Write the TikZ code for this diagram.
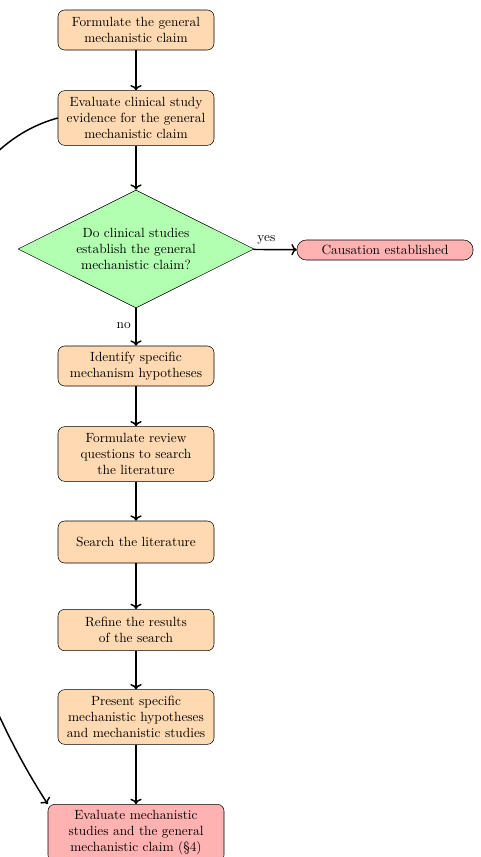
\documentclass[tikz,border=0pt]{standalone}
\usepackage{amsmath,amssymb}
\usepackage{xcolor}
\usepackage{tikz}
\usetikzlibrary{shapes.geometric, positioning, calc, arrows.meta}

\begin{document}
\begin{tikzpicture}[x=0.75pt, y=-0.75pt,
        box/.style={draw, rounded corners=5pt, fill=orange!30, align=center,
                    minimum width=117pt, minimum height=30pt, inner sep=2pt},
        decision/.style={draw, diamond, aspect=2, fill=green!30, align=center, inner sep=-3pt,
                    minimum width=177pt, minimum height=88.5pt},
        goal/.style={draw, rounded corners=7pt, fill=red!30, align=center,
                    minimum width=132pt, minimum height=15pt, inner sep=1pt},
        flow/.style={->, line width=1.1pt}]
        \useasboundingbox (0,0) rectangle (481,857);

        % Clinical part
        \node[box] (claim) at (136,30) {Formulate the general\\mechanistic claim};
        \node[box, minimum height=41pt] (clinical) at (136,118) {Evaluate clinical study\\evidence for the general\\mechanistic claim};
        \node[decision] (check) at (136,249) {Do clinical studies\\establish the general\\mechanistic claim?};
        \node[goal] (done) at (385,250) {Causation established};

        % Mechanistic part
        \node[box] (identify) at (136,366) {Identify specific\\mechanism hypotheses};
        \node[box, minimum height=41pt] (questions) at (136,454) {Formulate review\\questions to search\\the literature};
        \node[box, minimum height=31.5pt] (search) at (136,542) {Search the literature};
        \node[box, minimum height=31pt] (refine) at (136,630) {Refine the results\\of the search};
        \node[box, minimum height=41pt] (present) at (136,717) {Present specific\\mechanistic hypotheses\\and mechanistic studies};
        \node[goal, rounded corners=5pt, minimum width=132pt, minimum height=43pt] (mech) at (136,833) {Evaluate mechanistic\\studies and the general\\mechanistic claim (\S4)};

        % Arrows
        \draw[flow] (claim) -- (clinical);
        \draw[flow] (clinical) -- (check);
        \draw[flow] (check) -- node[above, pos=0.3] {yes} (done);
        \draw[flow] (check) -- node[left, pos=0.45] {no} (identify);
        \draw[flow] (identify) -- (questions);
        \draw[flow] (questions) -- (search);
        \draw[flow] (search) -- (refine);
        \draw[flow] (refine) -- (present);
        \draw[flow] (present) -- (mech);

        % Loop back on the left
        \draw[flow] (clinical.west) .. controls (-130,170) and (-110,560) .. (mech.north west);

\end{tikzpicture}
\end{document}
